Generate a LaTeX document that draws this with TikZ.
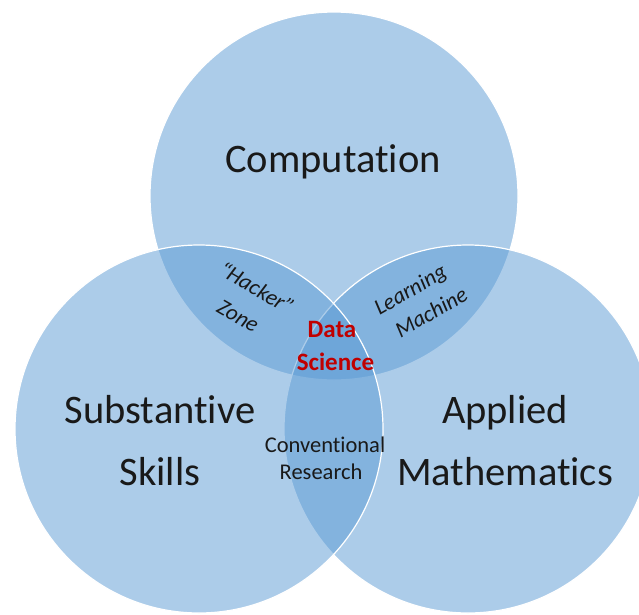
\documentclass[tikz,border=0pt]{standalone}
\usepackage{fontspec}
\setmainfont[Ligatures=NoCommon]{Carlito}
\definecolor{vennblue}{RGB}{91,155,213}
\definecolor{dsred}{RGB}{192,0,0}
\tikzset{
  venn/.style={fill=vennblue, fill opacity=0.5, draw=white, line width=1.2pt},
  bigtxt/.style={font=\fontsize{40.5}{40.5}\selectfont, text=black!90, anchor=base, inner sep=0pt},
  midtxt/.style={font=\fontsize{22.5}{22.5}\selectfont, text=black!90, anchor=base, inner sep=0pt},
  ittxt/.style={font=\fontsize{22.5}{22.5}\selectfont\itshape, text=black!90, inner sep=0pt},
  dstxt/.style={font=\fontsize{25}{25}\selectfont\bfseries, text=dsred, anchor=base, inner sep=0pt}
}
\begin{document}
\begin{tikzpicture}[x=1pt,y=-1pt]
\useasboundingbox (0,0) rectangle (639,614);
\clip (0,0) rectangle (639,614);
\fill[white] (0,0) rectangle (639,614);
\path[venn] (334,196) circle[radius=184pt];
\path[venn] (468,429) circle[radius=184pt];
\path[venn] (199,429) circle[radius=184pt];
\node[bigtxt] (comp) at (333,172) {Computation};
\node[bigtxt] (subs) at (160,423) {Substantive};
\node[bigtxt] (skil) at (160,485) {Skills};
\node[bigtxt] (appl) at (505,423) {Applied};
\node[bigtxt] (math) at (505,485) {Mathematics};
\node[midtxt] (conv) at (325,452) {Conventional};
\node[midtxt] (rese) at (321,479) {Research};
\node[dstxt] (data) at (332,337) {Data};
\node[dstxt] (scie) at (335.5,370) {Science};
\node[ittxt, rotate=-30] (hack) at (257,288) {“Hacker”};
\node[ittxt, rotate=-30] (zone) at (238,316) {Zone};
\node[ittxt, rotate=30] (lear) at (411,291) {Learning};
\node[ittxt, rotate=30] (mach) at (431,312) {Machine};
\end{tikzpicture}
\end{document}
